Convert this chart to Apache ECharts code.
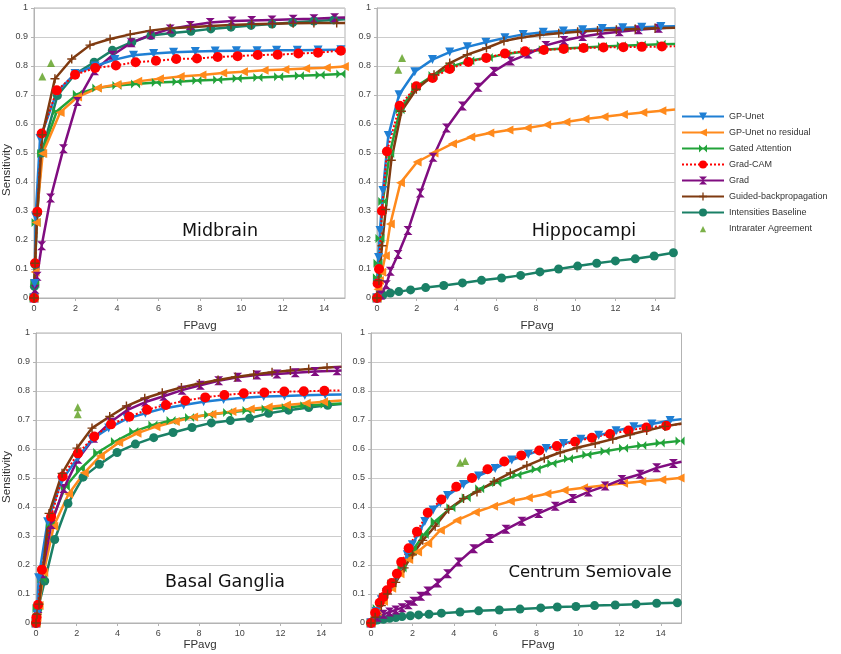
<!DOCTYPE html>
<html><head><meta charset="utf-8">
<script src="https://cdn.jsdelivr.net/npm/echarts@6/dist/echarts.min.js"></script>
<style>html,body{margin:0;padding:0;background:#fff}#c{width:841px;height:654px}</style>
</head><body><div id="c"></div><script>
// ---------- data ----------
const seriesNames = ['GP-Unet','GP-Unet no residual','Gated Attention','Grad-CAM','Grad','Guided-backpropagation','Intensities Baseline','Intrarater Agreement'];
const panelTitles = ['Midbrain','Hippocampi','Basal Ganglia','Centrum Semiovale'];
const xAxisName = 'FPavg';
const yAxisName = 'Sensitivity';

const midGP = [[0,0],[0.03,0.05],[0.08,0.28],[0.29,0.55],[1.1,0.71],[1.98,0.774],[2.95,0.8],[3.9,0.822],[4.8,0.837],[5.77,0.843],[6.73,0.847],[7.78,0.85],[8.74,0.852],[9.76,0.853],[10.76,0.853],[11.7,0.854],[12.7,0.854],[13.7,0.855],[14.8,0.856],[15,0.856]];
const midNoRes = [[0,0],[0.05,0.09],[0.1,0.26],[0.42,0.498],[1.26,0.64],[2.1,0.693],[3.06,0.724],[4.0,0.736],[5.0,0.747],[6.05,0.756],[7.05,0.764],[8.1,0.769],[9.1,0.776],[10.1,0.78],[11.1,0.785],[12.1,0.788],[13.1,0.791],[14.1,0.794],[14.97,0.798]];
const midGated = [[0,0],[0.04,0.05],[0.1,0.26],[0.37,0.498],[1.1,0.644],[2.09,0.703],[3.03,0.724],[4.0,0.733],[4.9,0.738],[5.9,0.743],[6.9,0.746],[7.86,0.75],[8.86,0.753],[9.8,0.757],[10.8,0.76],[11.8,0.763],[12.8,0.766],[13.8,0.769],[14.8,0.772],[15,0.773]];
const midGradCAM = [[0,0],[0.05,0.12],[0.16,0.297],[0.37,0.567],[1.1,0.716],[1.98,0.77],[2.95,0.793],[3.95,0.802],[4.9,0.813],[5.88,0.818],[6.86,0.824],[7.86,0.826],[8.86,0.831],[9.82,0.834],[10.79,0.838],[11.75,0.839],[12.75,0.843],[13.7,0.846],[14.8,0.853],[15,0.853]];
const midGrad = [[0,0],[0.05,0.03],[0.15,0.075],[0.37,0.18],[0.8,0.345],[1.42,0.515],[2.09,0.678],[2.92,0.784],[3.78,0.837],[4.69,0.88],[5.64,0.908],[6.57,0.928],[7.54,0.94],[8.5,0.95],[9.55,0.955],[10.5,0.957],[11.48,0.959],[12.5,0.961],[13.5,0.963],[14.5,0.966],[15,0.967]];
const midGuided = [[0,0],[0.05,0.12],[0.15,0.29],[0.4,0.563],[1.01,0.756],[1.82,0.824],[2.7,0.872],[3.67,0.893],[4.64,0.909],[5.6,0.922],[6.57,0.93],[7.55,0.934],[8.5,0.938],[9.5,0.941],[10.5,0.944],[11.5,0.946],[12.5,0.947],[13.5,0.948],[14.6,0.948],[15,0.948]];
const midInt = [[0,0],[0.02,0.04],[0.05,0.115],[0.16,0.293],[0.37,0.5],[1.13,0.698],[1.98,0.772],[2.9,0.813],[3.78,0.854],[4.72,0.882],[5.64,0.905],[6.65,0.914],[7.57,0.92],[8.53,0.928],[9.5,0.934],[10.47,0.94],[11.48,0.945],[12.48,0.95],[13.5,0.955],[14.46,0.959],[15,0.961]];
const midIntra = [[0.4,0.764],[0.82,0.81]];

const hipGP = [[0,0],[0.03,0.05],[0.08,0.14],[0.15,0.233],[0.3,0.371],[0.57,0.56],[1.11,0.701],[1.9,0.78],[2.79,0.822],[3.66,0.848],[4.55,0.866],[5.48,0.882],[6.44,0.897],[7.36,0.909],[8.37,0.916],[9.38,0.921],[10.35,0.925],[11.34,0.929],[12.37,0.932],[13.33,0.934],[14.29,0.936],[15,0.937]];
const hipNoRes = [[0,0],[0.05,0.03],[0.12,0.06],[0.24,0.089],[0.42,0.146],[0.67,0.255],[1.18,0.397],[2.02,0.469],[2.87,0.5],[3.8,0.532],[4.72,0.555],[5.68,0.569],[6.64,0.579],[7.56,0.586],[8.54,0.597],[9.51,0.607],[10.47,0.617],[11.43,0.625],[12.4,0.633],[13.38,0.64],[14.34,0.646],[15,0.65]];
const hipGated = [[0,0],[0.02,0.07],[0.05,0.12],[0.15,0.205],[0.29,0.333],[0.64,0.498],[1.16,0.649],[1.95,0.728],[2.82,0.767],[3.7,0.797],[4.67,0.818],[5.6,0.829],[6.49,0.841],[7.45,0.85],[8.37,0.856],[9.41,0.86],[10.4,0.864],[11.35,0.867],[12.3,0.87],[13.3,0.872],[14.3,0.875],[15,0.876]];
const hipGradCAM = [[0,0],[0.03,0.05],[0.1,0.1],[0.25,0.3],[0.5,0.505],[1.14,0.663],[1.98,0.73],[2.8,0.759],[3.66,0.79],[4.6,0.814],[5.5,0.828],[6.44,0.843],[7.45,0.851],[8.4,0.855],[9.4,0.859],[10.4,0.862],[11.4,0.864],[12.4,0.865],[13.33,0.866],[14.34,0.867],[15,0.868]];
const hipGrad = [[0,0],[0.2,0.01],[0.47,0.046],[0.67,0.092],[1.06,0.15],[1.56,0.233],[2.18,0.362],[2.82,0.485],[3.5,0.586],[4.3,0.662],[5.09,0.727],[5.88,0.781],[6.72,0.817],[7.6,0.841],[8.5,0.871],[9.41,0.888],[10.35,0.902],[11.26,0.911],[12.2,0.918],[13.16,0.925],[14.17,0.93],[15,0.934]];
const hipGuided = [[0,0],[0.1,0.06],[0.25,0.18],[0.44,0.305],[0.72,0.475],[1.23,0.644],[1.98,0.72],[2.87,0.77],[3.66,0.81],[4.54,0.839],[5.51,0.862],[6.39,0.886],[7.28,0.898],[8.2,0.907],[9.15,0.913],[10.1,0.918],[11.1,0.922],[12.05,0.925],[13.0,0.928],[14.0,0.93],[15,0.932]];
const hipInt = [[0,0],[0.3,0.01],[0.67,0.017],[1.1,0.022],[1.69,0.028],[2.45,0.036],[3.36,0.043],[4.3,0.052],[5.26,0.061],[6.27,0.069],[7.23,0.078],[8.2,0.09],[9.14,0.1],[10.1,0.11],[11.06,0.12],[12.0,0.128],[13.0,0.135],[13.95,0.145],[14.92,0.156]];
const hipIntra = [[1.07,0.787],[1.26,0.828]];

const basGP = [[0,0],[0.05,0.03],[0.13,0.156],[0.57,0.349],[1.25,0.49],[2.05,0.57],[2.75,0.634],[3.57,0.672],[4.47,0.705],[5.37,0.723],[6.27,0.74],[7.25,0.752],[8.23,0.763],[9.21,0.771],[10.2,0.777],[11.18,0.781],[12.2,0.783],[13.2,0.785],[14.2,0.787],[15,0.788]];
const basNoRes = [[0,0],[0.05,0.02],[0.15,0.06],[0.38,0.174],[0.87,0.334],[1.6,0.445],[2.37,0.518],[3.16,0.576],[4.06,0.622],[4.96,0.654],[5.89,0.677],[6.84,0.695],[7.74,0.71],[8.64,0.72],[9.62,0.729],[10.52,0.738],[11.4,0.745],[12.3,0.752],[13.27,0.758],[14.12,0.763],[15,0.767]];
const basGated = [[0,0],[0.05,0.05],[0.29,0.153],[0.7,0.341],[1.44,0.47],[2.18,0.531],[3.03,0.588],[3.9,0.626],[4.8,0.66],[5.74,0.683],[6.63,0.698],[7.54,0.709],[8.48,0.718],[9.41,0.726],[10.36,0.733],[11.3,0.738],[12.29,0.743],[13.2,0.749],[14.2,0.754],[15,0.757]];
const basGradCAM = [[0,0],[0.02,0.02],[0.1,0.063],[0.29,0.184],[0.74,0.366],[1.31,0.505],[2.06,0.585],[2.86,0.643],[3.68,0.685],[4.58,0.711],[5.45,0.735],[6.38,0.752],[7.33,0.767],[8.31,0.778],[9.25,0.786],[10.2,0.792],[11.21,0.795],[12.19,0.798],[13.15,0.799],[14.16,0.801],[15,0.802]];
const basGrad = [[0,0],[0.1,0.05],[0.3,0.17],[0.75,0.34],[1.36,0.464],[2.06,0.565],[2.83,0.637],[3.65,0.692],[4.5,0.735],[5.37,0.762],[6.27,0.782],[7.17,0.803],[8.07,0.82],[8.97,0.835],[9.9,0.847],[10.85,0.855],[11.83,0.859],[12.73,0.863],[13.7,0.867],[14.78,0.87],[15,0.871]];
const basGuided = [[0,0],[0.05,0.03],[0.15,0.065],[0.64,0.378],[1.28,0.516],[2.01,0.603],[2.75,0.672],[3.62,0.712],[4.44,0.748],[5.34,0.775],[6.2,0.794],[7.14,0.812],[8.02,0.826],[8.94,0.838],[9.79,0.848],[10.69,0.857],[11.59,0.865],[12.49,0.871],[13.39,0.876],[14.29,0.881],[15,0.884]];
const basInt = [[0,0],[0.1,0.05],[0.43,0.145],[0.92,0.288],[1.57,0.412],[2.31,0.503],[3.11,0.547],[3.98,0.588],[4.88,0.617],[5.78,0.639],[6.73,0.657],[7.66,0.674],[8.61,0.69],[9.54,0.698],[10.49,0.706],[11.42,0.723],[12.4,0.734],[13.39,0.743],[14.32,0.751],[15,0.755]];
const basIntra = [[2.05,0.72],[2.05,0.744]];

const cenGP = [[0,0],[0.25,0.04],[0.5,0.08],[0.75,0.105],[1.0,0.13],[1.25,0.16],[1.5,0.2],[1.75,0.235],[2.0,0.27],[2.3,0.31],[2.6,0.35],[3.0,0.39],[3.35,0.415],[3.7,0.44],[4.47,0.478],[5.2,0.507],[6.0,0.533],[6.8,0.562],[7.6,0.582],[8.46,0.602],[9.3,0.619],[10.14,0.634],[11.0,0.647],[11.84,0.663],[12.7,0.677],[13.57,0.686],[14.45,0.698],[15,0.703]];
const cenNoRes = [[0,0],[0.3,0.04],[0.6,0.075],[1.0,0.12],[1.4,0.17],[1.82,0.219],[2.25,0.245],[2.74,0.274],[3.35,0.32],[4.15,0.354],[5.04,0.382],[5.92,0.403],[6.73,0.42],[7.6,0.432],[8.5,0.446],[9.33,0.458],[10.27,0.466],[11.23,0.474],[12.2,0.482],[13.08,0.488],[14.05,0.494],[14.93,0.5]];
const cenGated = [[0,0],[0.3,0.05],[0.6,0.09],[1.0,0.135],[1.5,0.19],[2.0,0.25],[2.57,0.305],[3.1,0.351],[3.86,0.397],[4.6,0.432],[5.25,0.463],[6.08,0.484],[7.05,0.51],[7.98,0.53],[8.74,0.55],[9.54,0.566],[10.43,0.58],[11.31,0.592],[12.2,0.603],[13.08,0.612],[13.97,0.621],[14.93,0.628]];
const cenGradCAM = [[0,0],[0.2,0.035],[0.42,0.07],[0.6,0.09],[0.77,0.113],[1.0,0.138],[1.25,0.17],[1.46,0.21],[1.82,0.258],[2.22,0.315],[2.74,0.38],[3.4,0.426],[4.12,0.47],[4.88,0.5],[5.63,0.53],[6.44,0.557],[7.26,0.578],[8.13,0.595],[8.98,0.61],[9.86,0.625],[10.67,0.639],[11.55,0.652],[12.44,0.664],[13.3,0.674],[14.26,0.68],[15,0.686]];
const cenGrad = [[0,0],[0.3,0.02],[0.6,0.03],[0.9,0.038],[1.2,0.045],[1.5,0.053],[1.8,0.063],[2.06,0.075],[2.4,0.092],[2.74,0.11],[3.22,0.138],[3.7,0.17],[4.23,0.21],[4.96,0.256],[5.73,0.291],[6.52,0.323],[7.29,0.351],[8.1,0.378],[8.9,0.403],[9.74,0.429],[10.5,0.452],[11.31,0.472],[12.12,0.495],[13.0,0.513],[13.8,0.535],[14.61,0.55],[15,0.556]];
const cenGuided = [[0,0],[0.2,0.02],[0.5,0.06],[0.8,0.1],[1.2,0.14],[1.6,0.19],[2.0,0.235],[2.5,0.285],[3.1,0.334],[3.75,0.392],[4.47,0.429],[5.12,0.452],[5.95,0.488],[6.73,0.517],[7.53,0.543],[8.37,0.568],[9.14,0.588],[9.95,0.604],[10.83,0.619],[11.68,0.634],[12.52,0.65],[13.32,0.664],[14.2,0.678],[15,0.688]];
const cenInt = [[0,0],[0.1,0.005],[0.3,0.01],[0.6,0.013],[0.9,0.016],[1.2,0.019],[1.5,0.022],[1.9,0.025],[2.3,0.028],[2.8,0.03],[3.4,0.034],[4.3,0.038],[5.2,0.042],[6.2,0.045],[7.2,0.048],[8.2,0.052],[9.0,0.055],[9.9,0.057],[10.8,0.06],[11.8,0.062],[12.8,0.065],[13.8,0.068],[14.8,0.07]];
const cenIntra = [[4.31,0.553],[4.55,0.559]];

const panelData = [
  [midGP, midNoRes, midGated, midGradCAM, midGrad, midGuided, midInt, midIntra],
  [hipGP, hipNoRes, hipGated, hipGradCAM, hipGrad, hipGuided, hipInt, hipIntra],
  [basGP, basNoRes, basGated, basGradCAM, basGrad, basGuided, basInt, basIntra],
  [cenGP, cenNoRes, cenGated, cenGradCAM, cenGrad, cenGuided, cenInt, cenIntra]
];

// ---------- styles ----------
const styles = [
  {color:'#1f7fd4', symbol:'path://M0,0L10,0L5,9Z', size:9, width:2.5, type:'solid'},
  {color:'#ff8a1c', symbol:'path://M10,0L10,10L0,5Z', size:9, width:2.5, type:'solid'},
  {color:'#22a33a', symbol:'path://M0,0L5,5L0,10ZM10,0L5,5L10,10Z', size:9, width:2.5, type:'solid'},
  {color:'#ff0000', symbol:'circle', size:10, width:2, type:'dotted'},
  {color:'#800d80', symbol:'path://M0,0L10,0L5,5ZM0,10L10,10L5,5Z', size:9, width:2.5, type:'solid'},
  {color:'#7f3a10', symbol:'path://M4.2,0H5.8V4.2H10V5.8H5.8V10H4.2V5.8H0V4.2H4.2Z', size:9, width:2.5, type:'solid'},
  {color:'#1a8066', symbol:'circle', size:9, width:2.5, type:'solid'},
  {color:'#5a9e1c', symbol:'path://M0,10L5,0L10,10Z', size:8}
];
const drawOrder = [6,2,1,4,0,3,5,7];
const xMax = 15;

const grids = [
  {left:34, top:8, width:311, height:290},
  {left:377, top:8, width:298, height:290},
  {left:36, top:333, width:305.5, height:290},
  {left:371, top:333, width:310.5, height:290}
];
const tickFont = {fontSize:9, color:'#444', fontFamily:'Liberation Sans'};

const xAxes = grids.map((g,i)=>({
  type:'value', gridIndex:i, min:0, max:xMax, interval:2,
  axisLine:{show:true, lineStyle:{color:'#b3b3b3', width:1}},
  axisTick:{show:true, inside:false, length:3, lineStyle:{color:'#b3b3b3'}},
  axisLabel:Object.assign({margin:6, showMaxLabel:false}, tickFont),
  splitLine:{show:false}
}));
const yAxes = grids.map((g,i)=>({
  type:'value', gridIndex:i, min:0, max:1, interval:0.1,
  axisLine:{show:true, lineStyle:{color:'#b3b3b3', width:1}},
  axisTick:{show:true, inside:false, length:3, lineStyle:{color:'#b3b3b3'}},
  axisLabel:Object.assign({margin:6}, tickFont),
  splitLine:{show:true, lineStyle:{color:'#cccccc', width:1}}
}));

const series = [];
panelData.forEach((arrs, gi)=>{
  drawOrder.forEach(si=>{
    const s = styles[si];
    if (si === 7) {
      series.push({name:seriesNames[si], type:'scatter', xAxisIndex:gi, yAxisIndex:gi,
        data:arrs[si], symbol:s.symbol, symbolSize:s.size, itemStyle:{color:s.color}, z:5});
    } else {
      series.push({name:seriesNames[si], type:'line', xAxisIndex:gi, yAxisIndex:gi,
        data:arrs[si], symbol:s.symbol,
        symbolSize:(v)=> (v[0] >= xMax ? 0 : s.size),
        showSymbol:true, showAllSymbol:true,
        itemStyle:{color:s.color}, lineStyle:{color:s.color, width:s.width, type:s.type}, z:3});
    }
  });
});

const titlePos = [
  {x:220, y:231, size:17.5},
  {x:584, y:231, size:17.5},
  {x:225, y:582, size:17.5},
  {x:590, y:573, size:16.5}
];
const graphics = [];
panelTitles.forEach((t,i)=>{
  graphics.push({type:'text', x:titlePos[i].x, y:titlePos[i].y, z:10,
    style:{text:t, font:titlePos[i].size+'px "DejaVu Sans"', fill:'#111', align:'center', verticalAlign:'middle', textAlign:'center', textVerticalAlign:'middle'}});
});
[[200,326],[537,326],[200,645],[538,645]].forEach(p=>{
  graphics.push({type:'text', x:p[0], y:p[1], z:10,
    style:{text:xAxisName, font:'11.5px "Liberation Sans"', fill:'#333', align:'center', verticalAlign:'middle', textAlign:'center', textVerticalAlign:'middle'}});
});
[[7,170],[7,477]].forEach(p=>{
  graphics.push({type:'text', x:p[0], y:p[1], rotation:Math.PI/2, z:10,
    style:{text:yAxisName, font:'11.5px "Liberation Sans"', fill:'#333', align:'center', verticalAlign:'middle', textAlign:'center', textVerticalAlign:'middle'}});
});

const legendData = seriesNames.map((n,i)=> i === 7
  ? {name:n, icon:'path://M-14,-3M24,13M0,10L5,0L10,10Z'}
  : {name:n});

const chart = echarts.init(document.getElementById('c'), null, {renderer:'canvas'});
chart.setOption({
  animation:false,
  backgroundColor:'#fff',
  grid: grids.map(g=>Object.assign({show:true, borderColor:'#b3b3b3', borderWidth:1, containLabel:false}, g)),
  xAxis:xAxes, yAxis:yAxes,
  legend:{data:legendData, orient:'vertical', left:681, top:112, padding:0, itemWidth:42, itemHeight:10, itemGap:7,
    textStyle:{fontSize:9, color:'#333', fontFamily:'Liberation Sans'}},
  graphic:graphics,
  series:series
});
</script></body></html>
